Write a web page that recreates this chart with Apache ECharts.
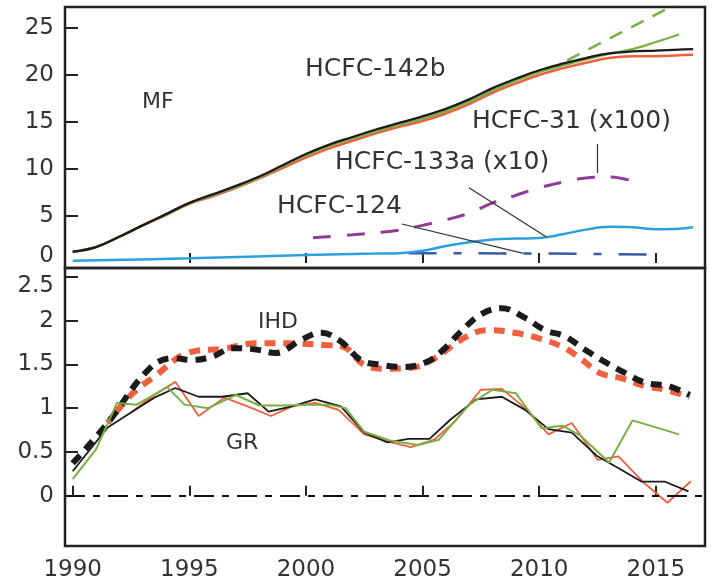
<!DOCTYPE html>
<html><head><meta charset="utf-8">
<script src="https://cdn.jsdelivr.net/npm/echarts@6/dist/echarts.min.js"></script>
<style>html,body{margin:0;padding:0;background:#fff}#c{width:712px;height:583px}</style>
</head><body><div id="c"></div>
<script>
// ---------- DATA ----------
// Top panel: mole fractions (ppt)
const mfYears = [1990,1991,1992,1993,1994,1995,1996,1997,1998,1999,2000,2001,2002,2003,2004,2005,2006,2007,2008,2009,2010,2011,2012,2013,2014,2015,2016,2016.6];
const hcfc142bBlack = [1.2,1.7,2.8,4.0,5.2,6.4,7.3,8.2,9.2,10.4,11.6,12.6,13.4,14.2,14.9,15.6,16.4,17.4,18.6,19.6,20.5,21.2,21.8,22.3,22.5,22.6,22.7,22.75];
const hcfc142bRed   = [1.2,1.7,2.8,4.0,5.1,6.3,7.1,8.0,9.0,10.1,11.2,12.2,13.0,13.8,14.5,15.1,15.9,16.9,18.1,19.1,20.0,20.7,21.3,21.8,22.0,22.0,22.1,22.15];
const greenYears = [1990,1991,1992,1993,1994,1995,1996,1997,1998,1999,2000,2001,2002,2003,2004,2005,2006,2007,2008,2009,2010,2011,2012,2013,2014,2015,2016];
const hcfc142bGreen = [1.2,1.7,2.8,4.0,5.15,6.35,7.2,8.1,9.1,10.3,11.45,12.45,13.25,14.0,14.7,15.35,16.15,17.15,18.35,19.4,20.3,21.0,21.65,22.25,22.75,23.5,24.3];
const greenDashYears = [2011.2, 2016.0];
const hcfc142bGreenDash = [21.55, 27.7];
const hcfc31Years = [2000.3,2002,2004,2005,2006,2007,2008,2009,2010,2011,2012,2013,2014.3];
const hcfc31x100 = [2.7,3.0,3.5,4.0,4.6,5.3,6.4,7.2,8.0,8.6,9.05,9.15,8.5];
const hcfc133aYears = [1990,1995,2000,2003,2004,2005,2006,2007,2008,2009,2010,2011,2012,2013,2014,2015,2016,2016.6];
const hcfc133ax10 = [0.25,0.5,0.85,1.0,1.05,1.3,1.8,2.2,2.5,2.6,2.65,3.05,3.55,3.85,3.8,3.6,3.65,3.8];
const hcfc124Years = [2004.4, 2009.5, 2015.1];
const hcfc124 = [1.05, 1.02, 0.9];

// Bottom panel: IHD and GR
const ihdBlackYears = [1990,1991.5,1993.25,1994.3,1995.1,1996,1996.85,1997.85,1998.7,1999.8,2000.65,2001.5,2002.35,2003.2,2004.2,2005.2,2005.9,2006.65,2007.5,2008.4,2009.4,2010.25,2011.1,2011.95,2012.8,2013.7,2014.55,2015.55,2016.45];
const ihdBlack = [0.37,0.83,1.44,1.57,1.55,1.59,1.685,1.67,1.63,1.78,1.86,1.76,1.55,1.495,1.47,1.53,1.67,1.875,2.07,2.14,2.03,1.89,1.82,1.67,1.53,1.40,1.29,1.25,1.15];
const ihdRedYears = [1991.5,1992.5,1993.5,1995,1996.5,1997.85,1999.2,2000.8,2001.6,2002.5,2003.5,2004.5,2005.4,2006.9,2007.8,2008.95,2009.95,2011,2011.85,2012.6,2013.55,2014.55,2015.4,2016.45];
const ihdRed = [0.83,1.15,1.36,1.636,1.68,1.74,1.74,1.72,1.70,1.495,1.45,1.46,1.55,1.82,1.89,1.86,1.80,1.70,1.55,1.40,1.34,1.25,1.21,1.13];
const grBlackYears = [1990,1991.5,1992.5,1993.5,1994.4,1995.4,1996.4,1997.5,1998.4,1999.4,2000.4,2001.5,2002.5,2003.5,2004.4,2005.3,2006.2,2007.3,2008.4,2009.4,2010.4,2011.4,2012.5,2013.5,2014.4,2015.4,2016.4];
const grBlack = [0.28,0.78,0.95,1.12,1.23,1.13,1.13,1.17,0.96,1.02,1.10,1.02,0.72,0.61,0.65,0.65,0.87,1.10,1.13,0.98,0.76,0.72,0.45,0.30,0.16,0.16,0.05];
const grRedYears = [1992.5,1993.5,1994.4,1995.4,1996.5,1997.5,1998.5,1999.4,2000.4,2001.4,2002.5,2003.5,2004.5,2005.5,2006.4,2007.5,2008.4,2009.4,2010.4,2011.4,2012.5,2013.4,2014.5,2015.5,2016.5];
const grRed = [0.95,1.15,1.30,0.91,1.12,1.02,0.91,1.02,1.06,0.98,0.70,0.62,0.555,0.64,0.85,1.21,1.22,1.0,0.70,0.83,0.41,0.45,0.145,-0.08,0.165];
const grGreenYears = [1990,1991,1991.9,1992.75,1994.05,1994.8,1995.8,1997,1998,1999,2000,2001,2001.7,2002.5,2003.6,2004.8,2005.7,2007,2008,2009,2010.1,2011,2011.8,2013,2014,2016];
const grGreen = [0.19,0.53,1.06,1.04,1.24,1.04,1.0,1.15,1.03,1.03,1.04,1.04,1.0,0.73,0.63,0.58,0.64,1.04,1.21,1.17,0.77,0.80,0.68,0.38,0.86,0.70];

// Tick labels
const xTickLabels = [1990,1995,2000,2005,2010,2015];
const topXTicks = [1995,2000,2005,2010,2015];
const topYLabels = [0,5,10,15,20,25];
const topYTicks = [5,10,15,20,25];
const botYLabels = [0,0.5,1,1.5,2,2.5];

// Annotation leader lines (data coordinates of the top panel)
const leaders = [
  [[2012.47,12.66],[2012.47,9.57]],
  [[2006.99,8.01],[2010.33,2.73]],
  [[2004.11,4.15],[2009.32,1.03]]
];
const annotations = [
  {text:'MF', x:142, y:104, size:22},
  {text:'HCFC-142b', x:305, y:72, size:25},
  {text:'HCFC-31 (x100)', x:472, y:124, size:25},
  {text:'HCFC-133a (x10)', x:335, y:165, size:25},
  {text:'HCFC-124', x:277, y:209, size:25},
  {text:'IHD', x:258, y:324, size:22},
  {text:'GR', x:226, y:445, size:22}
];

// ---------- CHART ----------
const zip = (xs, ys) => xs.map((x, i) => [x, ys[i]]);
const C = {black:'#1b1b1b', red:'#f0603f', green:'#78b043', purple:'#8e3d97', blue:'#2c9fde', navy:'#3b5aa6', text:'#333'};
const FONT = 'DejaVu Sans';
const axisTickStyle = {color:'#222', width:2};

function xAxisCfg(grid, labels, ticks, max) {
  return {
    gridIndex: grid, type:'value', min:1989.67, max: max,
    axisLine:{show:false}, splitLine:{show:false},
    axisTick:{show:true, inside:true, length:10, lineStyle:axisTickStyle, customValues:ticks},
    axisLabel: labels ? {show:true, customValues:labels, fontFamily:FONT, fontSize:23, color:C.text, margin:13,
      formatter: v => String(v)} : {show:false}
  };
}

const option = {
  animation:false,
  backgroundColor:'#fff',
  grid:[
    {left:65, top:7, right:7, height:261, show:true, borderColor:'#222', borderWidth:2.5},
    {left:65, top:268, right:7, height:278, show:true, borderColor:'#222', borderWidth:2.5}
  ],
  xAxis:[
    xAxisCfg(0, null, topXTicks, 2017.11),
    xAxisCfg(1, xTickLabels, xTickLabels, 2017.11)
  ],
  yAxis:[
    {gridIndex:0, type:'value', min:-0.53, max:27.23,
     axisLine:{show:false}, splitLine:{show:false},
     axisTick:{show:true, inside:true, length:13, lineStyle:axisTickStyle, customValues:topYTicks},
     axisLabel:{customValues:topYLabels, fontFamily:FONT, fontSize:23, color:C.text, margin:11,
       formatter: v => v === 0 ? '{z|0}' : String(v),
       rich:{z:{fontFamily:FONT, fontSize:23, color:C.text, padding:[0,0,14,0]}}}},
    {gridIndex:1, type:'value', min:-0.574, max:2.6,
     axisLine:{show:false}, splitLine:{show:false},
     axisTick:{show:true, inside:true, length:13, lineStyle:axisTickStyle, customValues:botYLabels},
     axisLabel:{customValues:botYLabels, fontFamily:FONT, fontSize:23, color:C.text, margin:11,
       formatter: v => v === 2.5 ? '{t|2.5}' : String(v),
       rich:{t:{fontFamily:FONT, fontSize:23, color:C.text, padding:[18,0,0,0]}}}}
  ],
  graphic: annotations.map(a => ({
    type:'text', left:a.x, top:a.y - a.size*0.6, silent:true, z:100,
    style:{text:a.text, fontFamily:FONT, fontSize:a.size, fill:C.text}
  })),
  series:[
    // top panel
    {type:'line', xAxisIndex:0, yAxisIndex:0, data:zip(hcfc31Years, hcfc31x100), smooth:0.4, showSymbol:false,
     lineStyle:{color:C.purple, width:3, type:[18,16]}},
    {type:'line', xAxisIndex:0, yAxisIndex:0, data:zip(hcfc124Years, hcfc124), showSymbol:false,
     lineStyle:{color:C.navy, width:2.5, type:[28,17,8,17]}},
    {type:'line', xAxisIndex:0, yAxisIndex:0, data:zip(hcfc133aYears, hcfc133ax10), smooth:0.4, showSymbol:false,
     lineStyle:{color:C.blue, width:2.5},
     markLine:{silent:true, symbol:'none', label:{show:false},
       lineStyle:{color:'#333', width:1.2, type:'solid'},
       data: leaders.map(l => [{coord:l[0]},{coord:l[1]}])}},
    {type:'line', xAxisIndex:0, yAxisIndex:0, data:zip(greenDashYears, hcfc142bGreenDash), showSymbol:false,
     lineStyle:{color:C.green, width:2.5, type:[14,10]}},
    {type:'line', xAxisIndex:0, yAxisIndex:0, data:zip(mfYears, hcfc142bRed), smooth:0.4, showSymbol:false,
     lineStyle:{color:C.red, width:2.5}},
    {type:'line', xAxisIndex:0, yAxisIndex:0, data:zip(greenYears, hcfc142bGreen), smooth:0.4, showSymbol:false,
     lineStyle:{color:C.green, width:2.2}},
    {type:'line', xAxisIndex:0, yAxisIndex:0, data:zip(mfYears, hcfc142bBlack), smooth:0.4, showSymbol:false,
     lineStyle:{color:C.black, width:2.3}},
    // bottom panel
    {type:'line', xAxisIndex:1, yAxisIndex:1, data:zip(ihdRedYears, ihdRed), smooth:0.4, showSymbol:false,
     lineStyle:{color:C.red, width:6, type:[11,8], dashOffset:5},
     markLine:{silent:true, symbol:'none', label:{show:false},
       lineStyle:{color:'#111', width:2, type:[20,8,7,8]}, data:[{yAxis:0}]}},
    {type:'line', xAxisIndex:1, yAxisIndex:1, data:zip(ihdBlackYears, ihdBlack), smooth:0.4, showSymbol:false,
     lineStyle:{color:C.black, width:6, type:[11,8]}},
    {type:'line', xAxisIndex:1, yAxisIndex:1, data:zip(grRedYears, grRed), showSymbol:false,
     lineStyle:{color:C.red, width:1.8}},
    {type:'line', xAxisIndex:1, yAxisIndex:1, data:zip(grBlackYears, grBlack), showSymbol:false,
     lineStyle:{color:C.black, width:1.8}},
    {type:'line', xAxisIndex:1, yAxisIndex:1, data:zip(grGreenYears, grGreen), showSymbol:false,
     lineStyle:{color:C.green, width:2}}
  ]
};
const chart = echarts.init(document.getElementById('c'));
chart.setOption(option);
</script></body></html>
